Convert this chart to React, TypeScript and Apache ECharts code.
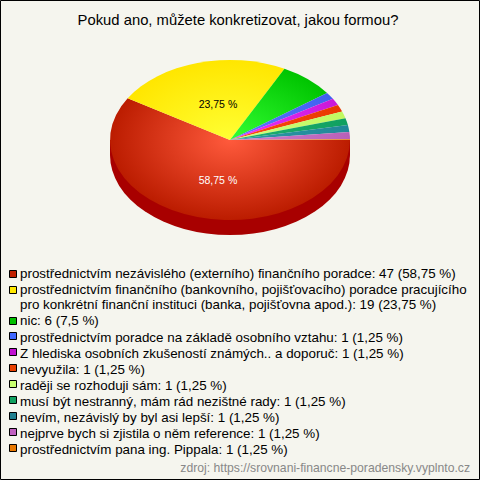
import React, { useEffect, useRef } from "react";
import * as echarts from "echarts";

const title = "Pokud ano, můžete konkretizovat, jakou formou?";
const source = "zdroj: https://srovnani-financne-poradensky.vyplnto.cz";
const values = [47, 19, 6, 1, 1, 1, 1, 1, 1, 1, 1];
const percents = ["58,75 %", "23,75 %", "7,5 %", "1,25 %", "1,25 %", "1,25 %", "1,25 %", "1,25 %", "1,25 %", "1,25 %", "1,25 %"];
const labels = [
  "prostřednictvím nezávislého (externího) finančního poradce",
  "prostřednictvím finančního (bankovního, pojišťovacího) poradce pracujícího\npro konkrétní finanční instituci (banka, pojišťovna apod.)",
  "nic",
  "prostřednictvím poradce na základě osobního vztahu",
  "Z hlediska osobních zkušeností známých.. a doporuč",
  "nevyužila",
  "raději se rozhoduji sám",
  "musí být nestranný, mám rád nezištné rady",
  "nevím, nezávislý by byl asi lepší",
  "nejprve bych si zjistila o něm reference",
  "prostřednictvím pana ing. Pippala",
];
const edgeColors = ["#bb1c00", "#ffe600", "#00c400", "#4060f0", "#c818d8", "#e83800", "#c0f860", "#10a060", "#208898", "#b860b8", "#e87800"];
const centerColors = ["#ff5a3c", "#ffff33", "#33ff33", "#5a7aff", "#f030ff", "#ff4a10", "#d0ff80", "#20b070", "#3098a8", "#d080d0", "#ff9020"];
const boxColors = ["#c02000", "#ffe800", "#00c000", "#4068ff", "#c010d0", "#e84000", "#c8ff70", "#10a060", "#208090", "#c060c0", "#e87800"];
const boxTop = [270, 286, 317, 332, 348, 364, 380, 396, 412, 428, 444];
const textTop = [266, 282, 313, 330, 346, 362, 378, 394, 410, 426, 442];

const CX = 230, CY = 140, RX = 120, RY = 80, DEPTH = 15;
const total = values.reduce((a, b) => a + b, 0);
// small slices are squeezed/stretched as in the reference: the last one is a hairline
const LAST_SWEEP = 0.6;
const sweeps = values.map((v, i) => {
  const s = (v / total) * 360;
  if (v !== 1) return s;
  if (i === values.length - 1) return LAST_SWEEP;
  return (36 - LAST_SWEEP) / 7;
});
const starts: number[] = [];
sweeps.reduce((acc, s, i) => ((starts[i] = acc), acc + s), 0);
const rad = (d: number) => (d * Math.PI) / 180;

export default function App() {
  const ref = useRef<HTMLDivElement>(null);
  useEffect(() => {
    document.body.style.margin = "0";
    const chart = echarts.init(ref.current!, undefined, { renderer: "svg" });
    const legend: any[] = [];
    labels.forEach((l, i) => {
      legend.push({ type: "rect", shape: { x: 9.5, y: boxTop[i] + 0.5, width: 7, height: 7 }, style: { fill: boxColors[i], stroke: "#000", lineWidth: 1 } });
      legend.push({ type: "text", x: 20, y: textTop[i], style: { text: `${l}: ${values[i]} (${percents[i]})`, fill: "#000", font: '13.38px "Liberation Sans"', lineHeight: 15, textVerticalAlign: "top" } });
    });
    chart.setOption({
      animation: false,
      backgroundColor: "#f5f5ee",
      title: { text: title, left: 233, top: 7, textAlign: "center", textStyle: { fontFamily: "Liberation Sans", fontSize: 14.8, fontWeight: "normal", color: "#000" } },
      graphic: [
        { type: "rect", silent: true, shape: { x: 0.5, y: 0.5, width: 479, height: 479 }, style: { fill: "none", stroke: "#000", lineWidth: 1 } },
        ...legend,
        { type: "text", x: 470, y: 461.5, style: { text: source, fill: "#888888", font: '12.2px "Liberation Sans"', textAlign: "right" } },
      ],
      series: [
        {
          type: "custom",
          coordinateSystem: "none",
          silent: true,
          clip: false,
          data: values,
          renderItem: (params: any) => {
            const i = params.dataIndex;
            const a0 = rad(starts[i]);
            const a1 = rad(starts[i] + sweeps[i]);
            const children: any[] = [];
            if (i === 0) {
              const side = "#a80000";
              children.push({ type: "sector", x: CX, y: CY + DEPTH, scaleY: RY / RX, shape: { cx: 0, cy: 0, r: RX, r0: 0, startAngle: 0, endAngle: Math.PI }, style: { fill: side } });
              children.push({ type: "rect", shape: { x: CX - RX, y: CY, width: 2 * RX, height: DEPTH }, style: { fill: side } });
            }
            children.push({
              type: "sector",
              x: CX,
              y: CY,
              scaleY: RY / RX,
              shape: { cx: 0, cy: 0, r: RX, r0: 0, startAngle: a0, endAngle: a1 },
              style: {
                fill: new echarts.graphic.RadialGradient(0, 0, RX, [
                  { offset: 0, color: centerColors[i] },
                  { offset: 1, color: edgeColors[i] },
                ], true),
              },
            });
            if (values[i] / total > 0.1) {
              const m = (a0 + a1) / 2;
              children.push({
                type: "text",
                x: CX + Math.cos(m) * RX * 0.37,
                y: CY + 2 + Math.sin(m) * RY * 0.495,
                style: { text: percents[i], fill: i === 0 ? "#fff" : "#000", font: '10.5px "Liberation Sans"', textAlign: "center", textVerticalAlign: "middle" },
              });
            }
            return { type: "group", children };
          },
        },
      ],
    });
    return () => chart.dispose();
  }, []);
  return <div ref={ref} style={{ width: 480, height: 480 }} />;
}
